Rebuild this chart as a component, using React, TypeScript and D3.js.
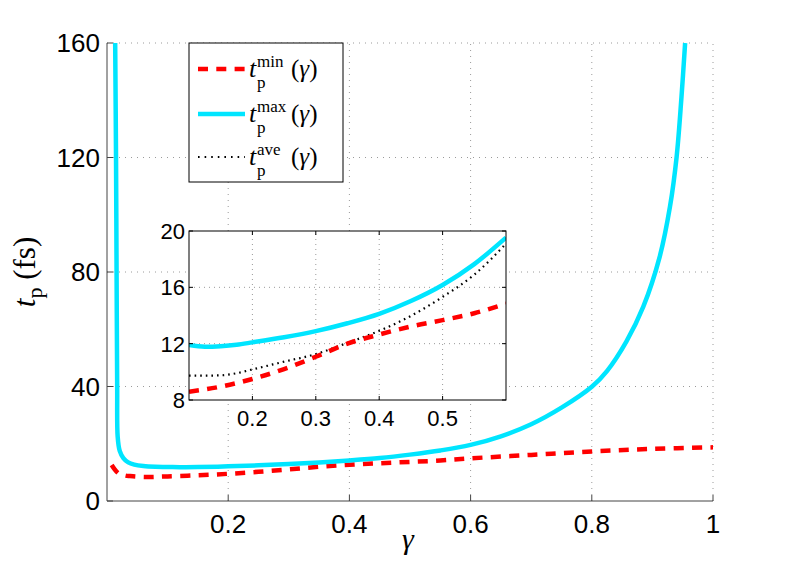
import * as d3 from 'd3'

// main plot: t_p^max (cyan) and t_p^min (red dashed) against gamma
const gammaMax = [0.0135, 0.0149, 0.0158, 0.0168, 0.0176, 0.021, 0.027, 0.035, 0.045, 0.06, 0.08, 0.1, 0.12, 0.15, 0.2, 0.25, 0.3, 0.35, 0.4, 0.45, 0.5, 0.55, 0.6, 0.65, 0.7, 0.75, 0.8, 0.825, 0.857, 0.885, 0.912, 0.929, 0.94, 0.948, 0.954]
const tMax = [160, 120, 80, 40, 22.5, 17.5, 15, 13.5, 12.7, 12.2, 11.95, 11.9, 11.8, 11.85, 12.1, 12.45, 12.9, 13.45, 14.15, 15.0, 16.2, 17.65, 19.6, 22.6, 26.8, 32.6, 39.9, 45.4, 55.7, 67.9, 85.3, 102.8, 120.3, 141.2, 160]

const gammaMin = [0.0077, 0.0187, 0.03, 0.038, 0.05, 0.07, 0.1, 0.15, 0.2, 0.25, 0.3, 0.35, 0.4, 0.45, 0.5, 0.55, 0.6, 0.7, 0.8, 0.9, 1.0]
const tMin = [12.6, 9.7, 8.9, 8.7, 8.5, 8.4, 8.6, 9.0, 9.5, 10.2, 11.05, 11.95, 12.65, 13.2, 13.65, 14.15, 14.9, 16.1, 17.3, 18.2, 18.75]

// inset: zoom on 0.1..0.6
const insetGamma = [0.1, 0.125, 0.15, 0.175, 0.2, 0.25, 0.3, 0.35, 0.4, 0.45, 0.5, 0.55, 0.6]
const insetMax = [11.9, 11.78, 11.82, 11.92, 12.09, 12.45, 12.89, 13.45, 14.12, 15.03, 16.17, 17.65, 19.53]
const insetMin = [8.59, 8.75, 8.95, 9.2, 9.49, 10.2, 11.07, 12.0, 12.65, 13.22, 13.67, 14.16, 14.85]
const insetAve = [9.73, 9.73, 9.75, 9.9, 10.17, 10.72, 11.26, 12.06, 12.91, 13.97, 15.32, 16.9, 19.1]

const xTicks = [0.2, 0.4, 0.6, 0.8, 1]
const yTicks = [0, 40, 80, 120, 160]
const insetXTicks = [0.2, 0.3, 0.4, 0.5]
const insetYTicks = [8, 12, 16, 20]
const legendKeys = ['min', 'max', 'ave']

const CYAN = '#00e5ff'
const RED = '#ff0000'
const SANS = '"Liberation Sans", Arial, Helvetica, sans-serif'
const SERIF = '"Liberation Serif", "DejaVu Serif", serif'
const GRID = '#9a9a9a'

export default function App() {
  const x = d3.scaleLinear().domain([0, 1]).range([107, 713])
  const y = d3.scaleLinear().domain([0, 160]).range([501, 43])
  const ix = d3.scaleLinear().domain([0.1, 0.6]).range([189, 506])
  const iy = d3.scaleLinear().domain([8, 20]).range([400, 231])

  const mainLine = d3.line<[number, number]>()
    .x(d => x(d[0]))
    .y(d => y(d[1]))
    .curve(d3.curveCatmullRom.alpha(0.5))
  const insetLine = d3.line<[number, number]>()
    .x(d => ix(d[0]))
    .y(d => iy(d[1]))
    .curve(d3.curveMonotoneX)

  const zip = (a: number[], b: number[]) => a.map((v, i) => [v, b[i]] as [number, number])

  const legendStyle: Record<string, any> = {
    min: { stroke: RED, width: 4.5, dash: '10,8.3' },
    max: { stroke: CYAN, width: 4.5, dash: null },
    ave: { stroke: '#000', width: 2.2, dash: '1.6,5' },
  }

  return (
    <svg width={789} height={565} style={{ position: 'absolute', left: 0, top: 0, background: '#fff' }}>
      <defs>
        <clipPath id="mainClip"><rect x={107} y={43} width={606} height={458} /></clipPath>
        <clipPath id="insetClip"><rect x={189} y={231} width={317} height={169} /></clipPath>
      </defs>

      {/* main grid */}
      {xTicks.map(t => (
        <line key={'gx' + t} x1={x(t)} x2={x(t)} y1={y(0)} y2={y(160)} stroke={GRID} strokeDasharray="1,5" />
      ))}
      {yTicks.filter(t => t > 0).map(t => (
        <line key={'gy' + t} x1={x(0)} x2={x(1)} y1={y(t)} y2={y(t)} stroke={GRID} strokeDasharray="1,5" />
      ))}

      {/* main axes */}
      <line x1={x(0)} x2={x(1)} y1={y(0)} y2={y(0)} stroke="#444" />
      <line x1={x(0)} x2={x(0)} y1={y(0)} y2={y(160)} stroke="#444" />
      {xTicks.map(t => (
        <g key={'tx' + t}>
          <line x1={x(t)} x2={x(t)} y1={y(0)} y2={y(0) - 6} stroke="#444" />
          <text x={x(t)} y={533} textAnchor="middle" fontFamily={SANS} fontSize={26} fill="#000">{d3.format('~g')(t)}</text>
        </g>
      ))}
      {yTicks.map(t => (
        <g key={'ty' + t}>
          <line x1={x(0)} x2={x(0) + 6} y1={y(t)} y2={y(t)} stroke="#444" />
          <text x={100} y={y(t)} dy="0.36em" textAnchor="end" fontFamily={SANS} fontSize={26} fill="#000">{t}</text>
        </g>
      ))}

      {/* main curves */}
      <g clipPath="url(#mainClip)">
        <path d={mainLine(zip(gammaMin, tMin)) || ''} fill="none" stroke={RED} strokeWidth={4.5} strokeDasharray="10,8.3" />
        <path d={mainLine(zip(gammaMax, tMax)) || ''} fill="none" stroke={CYAN} strokeWidth={4.5} />
      </g>

      {/* axis labels */}
      <text x={408} y={549} textAnchor="middle" fontFamily={SERIF} fontStyle="italic" fontSize={30} fill="#000">γ</text>
      <text transform="translate(35,272) rotate(-90)" textAnchor="middle" fontFamily={SERIF} fontSize={31} fill="#000">
        <tspan fontStyle="italic">t</tspan>
        <tspan fontSize={22} dy={7}>p</tspan>
        <tspan dy={-7}>{'\u00a0(fs)'}</tspan>
      </text>

      {/* legend */}
      <rect x={189} y={43} width={154} height={139} fill="#fff" stroke="#000" strokeWidth={1} />
      {legendKeys.map((k, i) => {
        const cy = [69, 114, 157][i]
        const s = legendStyle[k]
        return (
          <g key={k}>
            <line x1={198} x2={245} y1={cy} y2={cy} stroke={s.stroke} strokeWidth={s.width} strokeDasharray={s.dash || undefined} />
            <text x={249} y={cy + 8} fontFamily={SERIF} fontStyle="italic" fontSize={26} fill="#000">t</text>
            <text x={257} y={cy + 19} fontFamily={SERIF} fontSize={17} fill="#000">p</text>
            <text x={257} y={cy - 2} fontFamily={SERIF} fontSize={17} fill="#000">{k}</text>
            <text x={291} y={cy + 8} fontFamily={SERIF} fontSize={25} fill="#000">
              (<tspan fontStyle="italic">γ</tspan>)
            </text>
          </g>
        )
      })}

      {/* inset */}
      <rect x={189} y={231} width={317} height={169} fill="#fff" />
      {insetXTicks.map(t => (
        <line key={'igx' + t} x1={ix(t)} x2={ix(t)} y1={iy(8)} y2={iy(20)} stroke={GRID} strokeDasharray="1,4" />
      ))}
      {insetYTicks.filter(t => t > 8 && t < 20).map(t => (
        <line key={'igy' + t} x1={ix(0.1)} x2={ix(0.6)} y1={iy(t)} y2={iy(t)} stroke={GRID} strokeDasharray="1,4" />
      ))}
      <g clipPath="url(#insetClip)">
        <path d={insetLine(zip(insetGamma, insetAve)) || ''} fill="none" stroke="#000" strokeWidth={2.2} strokeDasharray="1.6,4" />
        <path d={insetLine(zip(insetGamma, insetMin)) || ''} fill="none" stroke={RED} strokeWidth={4.5} strokeDasharray="10,8.3" />
        <path d={insetLine(zip(insetGamma, insetMax)) || ''} fill="none" stroke={CYAN} strokeWidth={4.5} />
      </g>
      <rect x={189} y={231} width={317} height={169} fill="none" stroke="#000" strokeWidth={1} />
      {insetXTicks.map(t => (
        <g key={'itx' + t}>
          <line x1={ix(t)} x2={ix(t)} y1={400} y2={396} stroke="#000" />
          <line x1={ix(t)} x2={ix(t)} y1={231} y2={235} stroke="#000" />
          <text x={ix(t)} y={426} textAnchor="middle" fontFamily={SANS} fontSize={22} fill="#000">{t}</text>
        </g>
      ))}
      {insetYTicks.map(t => (
        <g key={'ity' + t}>
          <line x1={189} x2={193} y1={iy(t)} y2={iy(t)} stroke="#000" />
          <line x1={506} x2={502} y1={iy(t)} y2={iy(t)} stroke="#000" />
          <text x={185} y={iy(t)} dy="0.36em" textAnchor="end" fontFamily={SANS} fontSize={22} fill="#000">{t}</text>
        </g>
      ))}
    </svg>
  )
}
